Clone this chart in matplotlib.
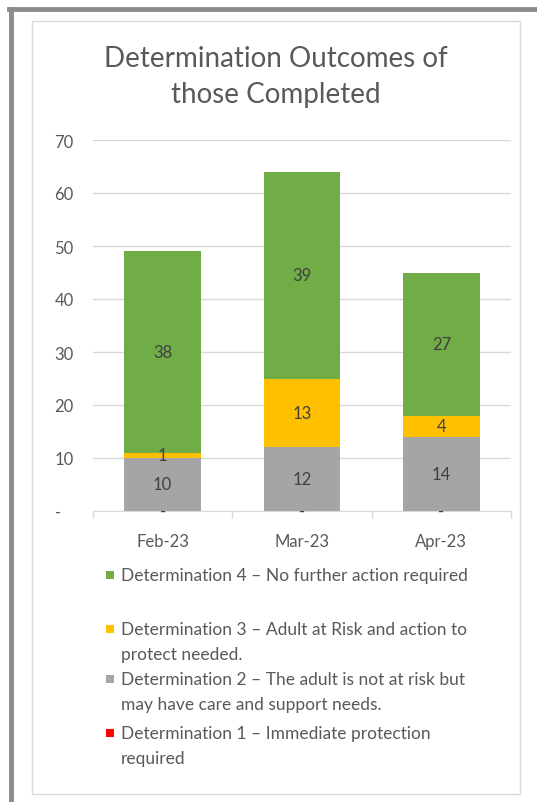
import numpy as np
import matplotlib.pyplot as plt
from matplotlib.patches import Rectangle
from matplotlib.lines import Line2D

months = ["Feb-23", "Mar-23", "Apr-23"]
det1 = [0, 0, 0]
det2 = [10, 12, 14]
det3 = [1, 13, 4]
det4 = [38, 39, 27]

series_colors = ["#FF0000", "#A5A5A5", "#FFC000", "#70AD47"]
legend_lines = [
    ["Determination 4 – No further action required"],
    ["Determination 3 – Adult at Risk and action to", "protect needed."],
    ["Determination 2 – The adult is not at risk but", "may have care and support needs."],
    ["Determination 1 – Immediate protection", "required"],
]
legend_colors = ["#70AD47", "#FFC000", "#A5A5A5", "#FF0000"]
yticks = [0, 10, 20, 30, 40, 50, 60, 70]
ytick_labels = ["-   ", "10", "20", "30", "40", "50", "60", "70"]

plt.rcParams['font.family'] = ['Lato', 'DejaVu Sans']
txt = "#595959"

W, H = 537, 803
fig = plt.figure(figsize=(W / 100, H / 100), dpi=100)

# outer frame (thick gray on left/top) and inner chart-area border
fig.add_artist(Line2D([10.5 / W, 10.5 / W], [0, 1 - 9.5 / H], color="#8C8C8C", lw=3.5))
fig.add_artist(Line2D([9 / W, 1], [1 - 9.5 / H, 1 - 9.5 / H], color="#8C8C8C", lw=3.5))
fig.add_artist(Rectangle((32 / W, 1 - 795 / H), (520 - 32) / W, (795 - 22) / H,
                         fill=False, ec="#D9D9D9", lw=1))

ax = fig.add_axes([93 / W, 1 - 512 / H, (511 - 93) / W, (512 - 141) / H])
x = np.arange(len(months))
width = 0.55
bottom = np.zeros(len(months))
for vals, col in zip([det1, det2, det3, det4], series_colors):
    vals = np.array(vals, dtype=float)
    ax.bar(x, vals, width, bottom=bottom, color=col, zorder=2)
    for xi, b, v in zip(x, bottom, vals):
        label = "-" if v == 0 else str(int(v))
        ax.text(xi, b + v / 2, label, ha="center", va="center",
                fontsize=12, color="#404040", zorder=3)
    bottom += vals

ax.set_xlim(-0.5, 2.5)
ax.set_ylim(0, 70)
ax.set_yticks(yticks)
ax.set_yticklabels(ytick_labels)
ax.yaxis.grid(True, color="#D9D9D9", lw=1, zorder=0)
ax.set_axisbelow(True)
ax.set_xticks(x)
ax.set_xticklabels(months)
ax.set_xticks([-0.5, 0.5, 1.5, 2.5], minor=True)
ax.tick_params(axis="x", which="major", length=0, pad=16, labelsize=12, labelcolor=txt)
ax.tick_params(axis="x", which="minor", length=5, color="#D9D9D9", width=1)
ax.tick_params(axis="y", length=0, pad=14, labelsize=12, labelcolor=txt)
for s in ["top", "right", "left"]:
    ax.spines[s].set_visible(False)
ax.spines["bottom"].set_color("#D9D9D9")

fig.text(276 / W, 1 - 77 / H, "Determination Outcomes of\nthose Completed",
         ha="center", va="center", fontsize=20, color=txt, linespacing=1.45)

# legend, drawn by hand so the markers sit on the first line of each entry
entry_y = [576, 630, 680, 734]
for lines, col, y0 in zip(legend_lines, legend_colors, entry_y):
    fig.add_artist(Rectangle((106 / W, 1 - (y0 + 4) / H), 8 / W, 8 / H,
                             color=col, lw=0))
    for i, line in enumerate(lines):
        fig.text(121 / W, 1 - (y0 + i * 25) / H, line, ha="left", va="center",
                 fontsize=12.5, color=txt)

fig.savefig("out.png", dpi=100)
